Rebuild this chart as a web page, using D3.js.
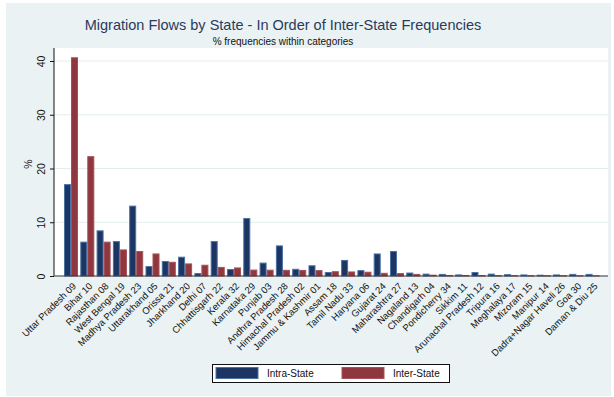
<!DOCTYPE html>
<html>
<head>
<meta charset="utf-8">
<script src="https://cdn.jsdelivr.net/npm/d3@7"></script>
<style>
  html, body { margin: 0; padding: 0; background: #ffffff; }
  svg { display: block; font-family: "Liberation Sans", Arial, Helvetica, sans-serif; }
</style>
</head>
<body>
<div id="chart"></div>
<script>
// States ordered by inter-state migration frequency
const states = [
  "Uttar Pradesh 09", "Bihar 10", "Rajasthan 08", "West Bengal 19", "Madhya Pradesh 23",
  "Uttarakhand 05", "Orissa 21", "Jharkhand 20", "Delhi 07", "Chhattisgarh 22",
  "Kerala 32", "Karnataka 29", "Punjab 03", "Andhra Pradesh 28", "Himachal Pradesh 02",
  "Jammu & Kashmir 01", "Assam 18", "Tamil Nadu 33", "Haryana 06", "Gujarat 24",
  "Maharashtra 27", "Nagaland 13", "Chandigarh 04", "Pondicherry 34", "Sikkim 11",
  "Arunachal Pradesh 12", "Tripura 16", "Meghalaya 17", "Mizoram 15", "Manipur 14",
  "Dadra+Nagar Haveli 26", "Goa 30", "Daman & Diu 25"
];
// % frequencies within categories
const intraState = [
  17.0, 6.3, 8.4, 6.4, 13.0,
  1.75, 2.7, 3.5, 0.45, 6.4,
  1.2, 10.7, 2.4, 5.6, 1.25,
  1.9, 0.65, 2.9, 1.0, 4.1,
  4.55, 0.55, 0.35, 0.3, 0.2,
  0.65, 0.35, 0.25, 0.2, 0.15,
  0.2, 0.3, 0.3
];
const interState = [
  40.6, 22.2, 6.3, 4.85, 4.55,
  4.1, 2.55, 2.25, 2.0, 1.6,
  1.5, 1.1, 1.08, 1.06, 1.04,
  1.0, 0.8, 0.75, 0.7, 0.5,
  0.45, 0.3, 0.15, 0.1, 0.1,
  0.08, 0.07, 0.06, 0.05, 0.05,
  0.05, 0.04, 0.03
];
const yTicks = [0, 10, 20, 30, 40];
const seriesNames = ["Intra-State", "Inter-State"];
const seriesFill = ["#1c3563", "#8f363e"];
const seriesStroke = ["#4a72a3", "#a3525a"];

const W = 614, H = 397;
const plot = { left: 54, right: 608, top: 48, bottom: 276 };

const svg = d3.select("#chart").append("svg")
  .attr("width", W).attr("height", H);

// outer graph region
svg.append("rect")
  .attr("x", 6).attr("y", 3).attr("width", 605).attr("height", 393)
  .attr("fill", "#eaf2f3");

// plot region
svg.append("rect")
  .attr("x", plot.left).attr("y", plot.top)
  .attr("width", plot.right - plot.left).attr("height", plot.bottom - plot.top)
  .attr("fill", "#ffffff");

const x = d3.scaleBand()
  .domain(states)
  .range([62.85, 600.75])
  .paddingInner(0.14)
  .paddingOuter(0.07);

const xs = d3.scaleBand()
  .domain(seriesNames)
  .range([0, x.bandwidth()]);

const y = d3.scaleLinear()
  .domain([0, 40])
  .range([plot.bottom, plot.bottom - 40 * 5.375]);

// horizontal grid lines
svg.append("g")
  .selectAll("line")
  .data(yTicks.filter(d => d > 0))
  .join("line")
  .attr("x1", plot.left).attr("x2", plot.right)
  .attr("y1", d => y(d)).attr("y2", d => y(d))
  .attr("stroke", "#e4eef0").attr("stroke-width", 1.2);

// bars
const groups = svg.append("g")
  .selectAll("g")
  .data(states.map((s, i) => ({ state: s, values: [intraState[i], interState[i]] })))
  .join("g")
  .attr("transform", d => `translate(${x(d.state)},0)`);

groups.selectAll("rect")
  .data(d => d.values.map((v, k) => ({ v, k })))
  .join("rect")
  .attr("x", d => xs(seriesNames[d.k]) + 0.5)
  .attr("width", xs.bandwidth() - 1)
  .attr("y", d => y(d.v))
  .attr("height", d => Math.max(0, y(0) - y(d.v)))
  .attr("fill", d => seriesFill[d.k])
  .attr("stroke", d => seriesStroke[d.k])
  .attr("stroke-width", 1);

// y axis
const yAxis = svg.append("g")
  .attr("transform", `translate(${plot.left},0)`)
  .call(d3.axisLeft(y).tickValues(yTicks).tickSize(4).tickPadding(5).tickFormat(d3.format("d")));
yAxis.select(".domain").attr("d", `M0,${plot.top}V${plot.bottom}`).attr("stroke", "#111");
yAxis.selectAll(".tick line").attr("stroke", "#111");
yAxis.selectAll(".tick text")
  .attr("font-size", 10.5)
  .attr("fill", "#111")
  .attr("text-anchor", "middle")
  .attr("x", null).attr("dy", null)
  .attr("transform", "translate(-13,0) rotate(-90)")
  .attr("dy", "0.35em");

// x axis
const xAxis = svg.append("g")
  .attr("transform", `translate(0,${plot.bottom})`)
  .call(d3.axisBottom(x).tickSize(0).tickPadding(0));
xAxis.select(".domain").attr("d", `M${plot.left},0H${plot.right}`).attr("stroke", "#333");
xAxis.selectAll(".tick text")
  .attr("font-size", 9.5)
  .attr("fill", "#111")
  .attr("text-anchor", "end")
  .attr("y", 0).attr("dy", null)
  .attr("transform", "translate(1,6) rotate(-45)")
  .attr("dy", "0.7em");

// y axis title
svg.append("text")
  .attr("transform", `translate(32,${(plot.top + plot.bottom) / 2 + 2}) rotate(-90)`)
  .attr("text-anchor", "middle")
  .attr("font-size", 10.5)
  .attr("fill", "#111")
  .text("%");

// titles
svg.append("text")
  .attr("x", 283).attr("y", 30)
  .attr("text-anchor", "middle")
  .attr("font-size", 14.5)
  .attr("fill", "#2a3a5c")
  .text("Migration Flows by State - In Order of Inter-State Frequencies");
svg.append("text")
  .attr("x", 283).attr("y", 45)
  .attr("text-anchor", "middle")
  .attr("font-size", 10)
  .attr("fill", "#111")
  .text("% frequencies within categories");

// legend
const legend = svg.append("g");
legend.append("rect")
  .attr("x", 212.5).attr("y", 364.5).attr("width", 237).attr("height", 18)
  .attr("fill", "#ffffff").attr("stroke", "#111").attr("stroke-width", 1);
const legendX = [216, 342];
seriesNames.forEach((name, k) => {
  legend.append("rect")
    .attr("x", legendX[k]).attr("y", 367.5).attr("width", 42).attr("height", 11)
    .attr("fill", seriesFill[k]).attr("stroke", seriesStroke[k]).attr("stroke-width", 1);
  legend.append("text")
    .attr("x", legendX[k] + 51).attr("y", 377)
    .attr("font-size", 10)
    .attr("fill", "#111")
    .text(name);
});
</script>
</body>
</html>
